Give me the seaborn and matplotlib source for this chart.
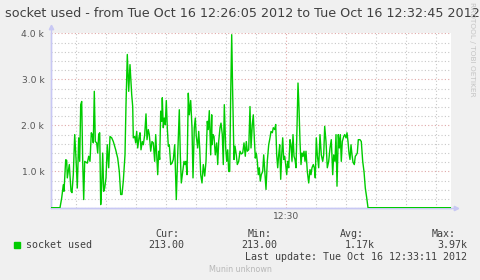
import matplotlib
matplotlib.use("Agg")
import matplotlib.pyplot as plt
import matplotlib.dates as mdates
import matplotlib.ticker as mticker
from matplotlib.patches import Rectangle
import seaborn as sns
import pandas as pd

# ---------------- data ----------------
start_time = "2012-10-16 12:26:05"
end_time = "2012-10-16 12:32:45"

seconds = [
    0, 9, 10.7, 12.3, 13, 14.7, 15.7, 16.3, 17.3, 18.3,
    20, 21, 22.3, 23.7, 25, 26.3, 27.7, 28.7, 29.7, 30.7,
    31.7, 32.7, 33.7, 35, 36.3, 37.7, 39, 40.3, 41.3, 42.3,
    43.3, 44.3, 45.7, 46.7, 47.7, 48.7, 49.7, 50.7, 51.7, 52.7,
    53.7, 55, 56.3, 57.7, 59, 60.7, 62.3, 64.7, 66.7, 68.3,
    69.7, 71, 72.3, 74, 75, 76.3, 77.7, 79,
    80.7, 81.7, 82.3, 83.7, 84.7, 85.7, 86.7, 88, 89, 90,
    91.3, 92.3, 93.7, 95, 96, 97.3, 98.3, 99.7, 101, 102.3,
    103.7, 104.7, 105.7, 106.7, 107.7, 108.7, 109.7, 110.7, 111.3, 112.3,
    113.3, 114.3, 115.3, 116.3, 117.3, 118.3, 119.7, 121, 122.3, 123.7,
    125.3, 126.7, 128.3, 129.3, 130.3, 131.7, 133, 134, 135, 136,
    137.3, 138.3, 139.7, 141, 142, 143.3, 144.3, 145.3, 146.7, 147.7,
    148.7, 149.7, 151, 152.3, 153.7, 155, 156.3, 157.3, 158.3, 159.7, 160.7,
    161, 162, 163, 164.3, 165.7, 166.7, 167.7, 169, 170, 171.3,
    172.3, 173.3, 174.7, 175.7, 176.7, 177.7, 178.7, 179.7, 180.7, 181.7,
    183, 184, 185.3, 186.3, 187.7, 189, 190.3, 191.7, 193, 194.3,
    195.3, 196.3, 197.7, 199, 200, 201.3, 202.3, 203.3, 204.3, 205.3,
    206.3, 207.3, 208.3, 209.3, 210.3, 211.7, 212.7, 214, 215, 216.3,
    217.7, 219, 220, 221.3, 222.3, 223.7, 224.7, 225.7, 226.7, 227.7,
    228.7, 229.7, 230.7, 231.7, 232.7, 233.7, 234.7, 235.7, 236.7, 237.7,
    239, 240, 241, 242, 243, 244, 245, 246, 247, 248,
    249, 250, 251, 252, 253, 254, 255, 256.3, 257.7, 259,
    260, 261, 262.3, 263.3, 264.3, 265.3, 266.3, 267.7, 269, 270.3,
    271.7, 272.7, 273.7, 275, 276.3, 277.7, 279, 280.3, 281.7, 282.7,
    284, 285, 286, 287.3, 288.3, 289.3, 290.3, 291.3, 292.7, 293.7,
    295, 296, 297, 298, 299, 300, 301, 302, 303.3, 304.3,
    305.3, 306.3, 307.3, 309, 310.3, 311.7, 313, 314.3, 315.7, 317,
    400,
]

sockets = [
    213, 213, 425, 710, 570, 1255, 1240, 860, 1000, 1150,
    570, 540, 930, 1800, 1290, 640, 1730, 1220, 2450, 2520,
    1220, 390, 1220, 1200, 1180, 1330, 1220, 1840, 1800, 1620,
    2740, 1650, 1620, 1400, 1810, 1840, 280, 700, 1400, 570,
    640, 860, 1580, 1080, 1760, 1730, 1650, 1470, 1290, 1000,
    500, 500, 790, 1360, 2450, 3540, 2740, 3320,
    2670, 2410, 1730, 1760, 1620, 1870, 1510, 1730, 1840, 1470,
    1650, 1580, 1800, 2250, 1690, 1910, 1800, 1440, 1650, 1620,
    1220, 1800, 1360, 930, 1440, 1260, 2310, 2090, 2600, 1950,
    2160, 2020, 2540, 1950, 1550, 1580, 1150, 1180, 1260, 1580,
    390, 1360, 2340, 1360, 750, 1000, 1220, 1150, 1220, 930,
    2700, 2230, 2540, 1950, 860, 1950, 2160, 1760, 1510, 1870,
    1510, 930, 750, 1150, 900, 1220, 2090, 1910, 2320, 1360, 2230,
    1580, 1800, 1760, 1360, 1620, 1150, 1650, 1950, 2050, 1800,
    1150, 2450, 1510, 1220, 1470, 1000, 1000, 2670, 3970, 2670,
    1260, 1550, 1360, 1150, 1220, 1440, 1380, 1400, 1620, 1330,
    1650, 1440, 1470, 2410, 1510, 2020, 2230, 1730, 1290, 1400,
    1220, 930, 1080, 790, 930, 1000, 1360, 930, 610, 1220,
    1580, 1730, 1870, 1840, 1950, 1910, 2020, 1360, 1080, 1360,
    1580, 830, 1360, 1730, 1260, 1330, 1150, 930, 1220, 1080,
    1690, 1580, 1220, 1800, 1330, 1260, 1080, 1950, 2920, 2380,
    1650, 1150, 1400, 1330, 1440, 1220, 1440, 1000, 750, 1040,
    930, 1080, 1150, 1080, 860, 1730, 1360, 1080, 1800, 1360,
    1220, 1360, 1980, 1650, 1080, 1220, 1510, 1690, 930, 1360,
    1220, 1800, 680, 1800, 1510, 1800, 1220, 1650, 1760, 1800,
    1730, 1840, 1650, 1400, 1260, 1580, 1360, 1200, 1150, 1330,
    1360, 1400, 1690, 1690, 1650, 1220, 1000, 640, 430, 213,
    213,
]

y_ticks = [1000, 2000, 3000, 4000]
y_tick_labels = ["1.0 k", "2.0 k", "3.0 k", "4.0 k"]
series_name = "socket used"
stat_names = ["Cur:", "Min:", "Avg:", "Max:"]
stat_values = ["213.00", "213.00", "1.17k", "3.97k"]
title = "socket used - from Tue Oct 16 12:26:05 2012 to Tue Oct 16 12:32:45 2012"
last_update = "Last update: Tue Oct 16 12:33:11 2012"

# ---------------- figure ----------------
W, H = 481, 280
sns.set_style("white")
plt.rcParams["font.family"] = ["DejaVu Sans"]

fig = plt.figure(figsize=(W / 100, H / 100), dpi=100, facecolor="#F0F0F0")
ax_left, ax_right, ax_top, ax_bottom = 51, 451, 33.3, 208.3
ax = fig.add_axes([ax_left / W, (H - ax_bottom) / H,
                   (ax_right - ax_left) / W, (ax_bottom - ax_top) / H])
ax.set_facecolor("white")

t0 = pd.Timestamp(start_time)
t1 = pd.Timestamp(end_time)
df = pd.DataFrame({"time": t0 + pd.to_timedelta(seconds, unit="s"),
                   "sockets": sockets})

GREEN = "#00CC00"
sns.lineplot(data=df, x="time", y="sockets", ax=ax, color=GREEN,
             lw=1.0, estimator=None, zorder=3)

ax.set_xlim(t0, t1)
ax.set_ylim(200, 4000)
ax.set_xlabel("")
ax.set_ylabel("")

ax.xaxis.set_major_locator(mdates.MinuteLocator(byminute=range(0, 60, 5)))
ax.xaxis.set_major_formatter(mdates.DateFormatter("%H:%M"))
ax.xaxis.set_minor_locator(mdates.SecondLocator(bysecond=[0, 30]))
ax.yaxis.set_major_locator(mticker.FixedLocator(y_ticks))
ax.yaxis.set_major_formatter(mticker.FixedFormatter(y_tick_labels))
ax.yaxis.set_minor_locator(mticker.MultipleLocator(200))

MGRID = "#E0A8A8"
GRID = "#C8C8C8"
ax.grid(which="major", color=MGRID, linestyle=(0, (1, 2)), lw=0.8, zorder=1)
ax.grid(which="minor", color=GRID, linestyle=(0, (1, 2)), lw=0.8, zorder=1)
ax.set_axisbelow(True)

AXC = "#C8C8F4"
for s in ["top", "right"]:
    ax.spines[s].set_visible(False)
for s in ["left", "bottom"]:
    ax.spines[s].set_color(AXC)
    ax.spines[s].set_linewidth(1.0)

ax.plot([0, 0], [0, 1.03], transform=ax.transAxes, clip_on=False, color=AXC, lw=1.0)
ax.plot([0, 1.012], [0, 0], transform=ax.transAxes, clip_on=False, color=AXC, lw=1.0)
ax.plot([0], [1.035], marker="^", ms=3.2, transform=ax.transAxes, clip_on=False,
        color=AXC, mec=AXC)
ax.plot([1.0125], [0], marker=">", ms=3.2, transform=ax.transAxes, clip_on=False,
        color=AXC, mec=AXC)

ax.tick_params(axis="both", which="major", length=1.5, color=MGRID,
               labelsize=6.6, labelcolor="#555555")
ax.tick_params(axis="y", which="major", pad=3.3)
ax.tick_params(axis="x", which="major", pad=1.5)
ax.tick_params(axis="both", which="minor", length=1.5, color=GRID)

# ---------------- texts ----------------
def fx(x):
    return x / W

def fy(y):
    return 1 - y / H

fig.text(fx(5), fy(13.3), title, ha="left", va="center", fontsize=9.15,
         color="#404040")
fig.text(fx(472.5), fy(2), "RRDTOOL / TOBI OETIKER", rotation=-90, ha="center",
         va="top", fontsize=5.3, color="#C4C4C4")

MONO = ["DejaVu Sans Mono"]
TXT = "#404040"
fig.add_artist(Rectangle((fx(14), fy(247.5)), 6 / W, 6 / H,
                         transform=fig.transFigure, color=GREEN))
fig.text(fx(26.5), fy(245.3), series_name, ha="left", va="center",
         fontsize=7.2, family=MONO, color=TXT)

header_x = [155, 248, 340, 432]
value_x = [148.7, 241.3, 345, 437.3]
for name, hx in zip(stat_names, header_x):
    fig.text(fx(hx), fy(233.7), name, ha="left", va="center", fontsize=7.2,
             family=MONO, color=TXT)
for val, vx in zip(stat_values, value_x):
    fig.text(fx(vx), fy(245.3), val, ha="left", va="center", fontsize=7.2,
             family=MONO, color=TXT)
fig.text(fx(245.5), fy(257.3), last_update, ha="left", va="center",
         fontsize=7.2, family=MONO, color=TXT)
fig.text(fx(240.5), fy(269.3), "Munin unknown", ha="center", va="center",
         fontsize=5.8, color="#B8B8B8")

fig.savefig("out.png", dpi=100, facecolor=fig.get_facecolor())
